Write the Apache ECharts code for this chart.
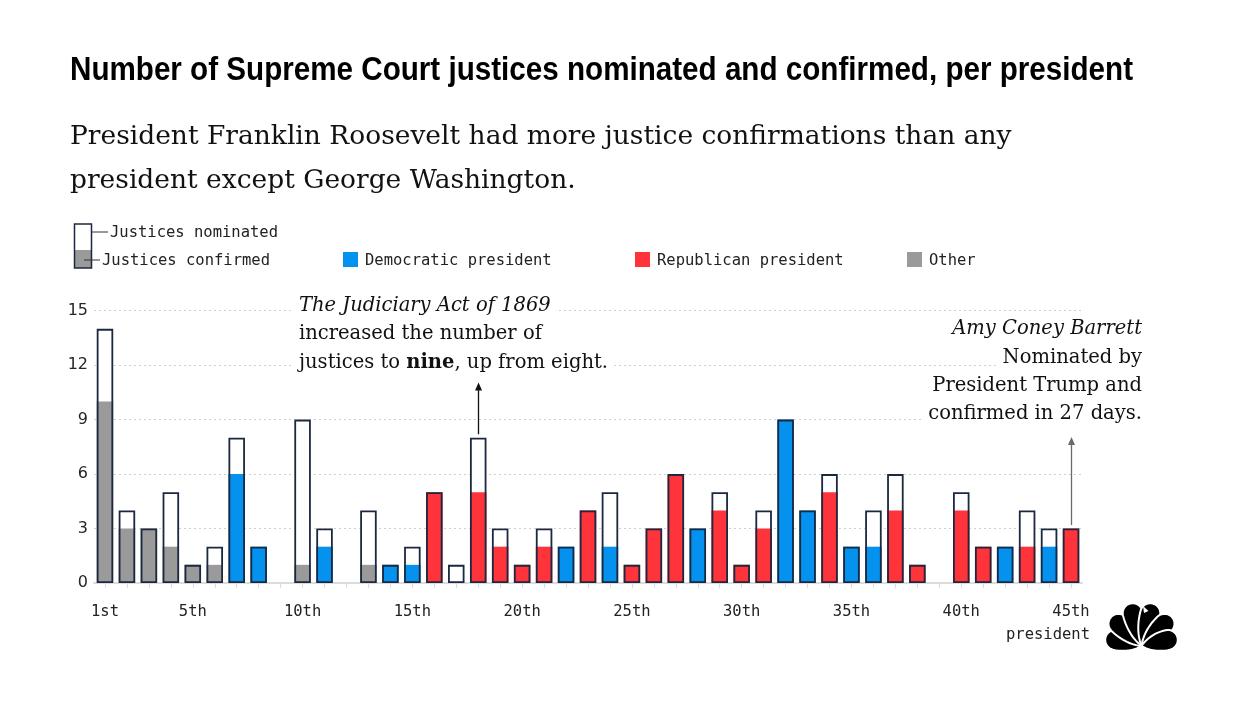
<!DOCTYPE html>
<html>
<head>
<meta charset="utf-8">
<script src="https://cdn.jsdelivr.net/npm/echarts/dist/echarts.min.js"></script>
<style>
  html, body { margin: 0; padding: 0; background: #fff; }
  #chart { width: 1250px; height: 703px; }
</style>
</head>
<body>
<div id="chart"></div>
<script>
// ---------------- DATA ----------------
const categories = ['1st','2nd','3rd','4th','5th','6th','7th','8th','9th','10th',
  '11th','12th','13th','14th','15th','16th','17th','18th','19th','20th',
  '21st','22nd','23rd','24th','25th','26th','27th','28th','29th','30th',
  '31st','32nd','33rd','34th','35th','36th','37th','38th','39th','40th',
  '41st','42nd','43rd','44th','45th'];
const nominated = [14,4,3,5,1,2,8,2,0,9, 3,0,4,1,2,5,1,8,3,1, 3,2,4,5,1,3,6,3,5,1, 4,9,4,6,2,4,6,1,0,5, 2,2,4,3,3];
const confirmed = [10,3,3,2,1,1,6,2,0,1, 2,0,1,1,1,5,0,5,2,1, 2,2,4,2,1,3,6,3,4,1, 3,9,4,5,2,2,4,1,0,4, 2,2,2,2,3];
const party = ['O','O','O','O','O','O','D','D','O','O', 'D','O','O','D','D','R','O','R','R','R',
  'R','D','R','D','R','R','R','D','R','R', 'R','D','D','R','D','D','R','R','D','R', 'R','D','R','D','R'];
const shownLabels = ['1st','5th','10th','15th','20th','25th','30th','35th','40th','45th'];
const yTicks = [0,3,6,9,12,15];

// ---------------- STYLE ----------------
const partyColor = { D: '#0592ef', R: '#ff333a', O: '#9a9a9a' };
const borderNavy = '#1b2840';
const MONO = '"DejaVu Sans Mono", monospace';
const SERIF = '"DejaVu Serif", serif';

const ctx = document.createElement('canvas').getContext('2d');
function textW(t, size, family, weight, style) {
  ctx.font = (style || 'normal') + ' ' + (weight || 'normal') + ' ' + size + 'px ' + family;
  return ctx.measureText(t).width;
}

const chart = echarts.init(document.getElementById('chart'), null, { renderer: 'canvas' });

const BW = 16.5;
const option = {
  animation: false,
  grid: { left: 94, right: 168, top: 310.7, bottom: 120, containLabel: false },
  xAxis: {
    type: 'category',
    data: categories,
    boundaryGap: true,
    axisLine: { lineStyle: { color: '#dcdcdc', width: 2 } },
    axisTick: { show: true, alignWithLabel: true, interval: 0, length: 5, lineStyle: { color: '#dcdcdc', width: 1 } },
    axisLabel: {
      interval: 0,
      formatter: v => (shownLabels.indexOf(v) >= 0 ? v : ''),
      margin: 21,
      fontFamily: MONO, fontSize: 15.5, color: '#222'
    },
    splitLine: { show: false }
  },
  yAxis: {
    type: 'value',
    min: yTicks[0], max: yTicks[yTicks.length - 1], interval: yTicks[1] - yTicks[0],
    axisLine: { show: false }, axisTick: { show: false },
    splitLine: { lineStyle: { color: '#cfcfcf', type: [2, 3], width: 1 } },
    axisLabel: { fontFamily: '"DejaVu Sans", sans-serif', fontSize: 16, color: '#262626', margin: 6 }
  },
  series: [
    {
      name: 'nominatedFill', type: 'bar', barWidth: BW, barGap: '-100%', z: 2, silent: true,
      data: nominated.map(v => (v > 0 ? v : null)),
      itemStyle: { color: '#ffffff' }
    },
    {
      name: 'confirmed', type: 'bar', barWidth: BW, barGap: '-100%', z: 3, silent: true,
      data: confirmed.map((v, i) => (v > 0 ? { value: v, itemStyle: { color: partyColor[party[i]] } } : null))
    },
    {
      name: 'nominatedOutline', type: 'bar', barWidth: BW, barGap: '-100%', z: 4, silent: true,
      data: nominated.map(v => (v > 0 ? v : null)),
      itemStyle: { color: 'rgba(0,0,0,0)', borderColor: borderNavy, borderWidth: 1.8 }
    }
  ]
};
chart.setOption(option);

// ---------------- TEXT / ANNOTATIONS ----------------
const titleText = 'Number of Supreme Court justices nominated and confirmed, per president';
const titleScale = 1063 / textW(titleText, 33, '"Liberation Sans"', 'bold');
const sub1 = 'President Franklin Roosevelt had more justice confirmations than any';
const sub2 = 'president except George Washington.';
const subSize = 26 * 942 / textW(sub1, 26, SERIF);
const annSize = 20 * 243 / textW('increased the number of', 20, SERIF);

const G = [];
function txt(x, y, text, opts) {
  const o = Object.assign({
    type: 'text', x: x, y: y, z: 100,
    style: Object.assign({ text: text, fill: '#111', verticalAlign: 'middle', align: 'left' }, opts && opts.style)
  }, opts && opts.el);
  G.push(o);
}

txt(70, 71, titleText, { el: { scaleX: titleScale }, style: { fontFamily: '"Liberation Sans", sans-serif', fontWeight: 'bold', fontSize: 33, fill: '#000' } });
txt(70, 137, sub1, { style: { fontFamily: SERIF, fontSize: subSize, fill: '#111' } });
txt(70, 181.5, sub2, { style: { fontFamily: SERIF, fontSize: subSize, fill: '#111' } });

// legend: stacked icon
G.push({ type: 'rect', z: 100, shape: { x: 74.5, y: 224, width: 17, height: 44 }, style: { fill: '#fff' } });
G.push({ type: 'rect', z: 100, shape: { x: 74.5, y: 250, width: 17, height: 18 }, style: { fill: partyColor.O } });
G.push({ type: 'rect', z: 101, shape: { x: 74.5, y: 224, width: 17, height: 44 }, style: { fill: 'none', stroke: borderNavy, lineWidth: 1.5 } });
G.push({ type: 'line', z: 101, shape: { x1: 91.5, y1: 232, x2: 108, y2: 232 }, style: { stroke: '#333', lineWidth: 1 } });
G.push({ type: 'line', z: 101, shape: { x1: 84, y1: 260, x2: 100, y2: 260 }, style: { stroke: '#333', lineWidth: 1 } });
txt(110, 233, 'Justices nominated', { style: { fontFamily: MONO, fontSize: 15.5, fill: '#222' } });
txt(102, 261, 'Justices confirmed', { style: { fontFamily: MONO, fontSize: 15.5, fill: '#222' } });

// legend: party squares
[[343, 'Democratic president', partyColor.D], [635, 'Republican president', partyColor.R], [907, 'Other', partyColor.O]].forEach(([x, label, c]) => {
  G.push({ type: 'rect', z: 100, shape: { x: x, y: 252, width: 15, height: 15 }, style: { fill: c } });
  txt(x + 22, 260.5, label, { style: { fontFamily: MONO, fontSize: 15.5, fill: '#222' } });
});

// left annotation
const annStyle = { fontFamily: SERIF, fontSize: annSize, fill: '#111', backgroundColor: '#fff', padding: [1, 5] };
txt(294, 311.7 - 0.3 * annSize, 'The Judiciary Act of 1869', { style: Object.assign({}, annStyle, { fontStyle: 'italic' }) });
txt(294, 340 - 0.3 * annSize, 'increased the number of', { style: annStyle });
txt(294, 368.4 - 0.3 * annSize, '{a|justices to }{b|nine}{a|, up from eight.}', {
  style: Object.assign({}, annStyle, {
    rich: {
      a: { fontFamily: SERIF, fontSize: annSize, fill: '#111' },
      b: { fontFamily: SERIF, fontSize: annSize, fill: '#111', fontWeight: 'bold' }
    }
  })
});

// right annotation
const rStyle = Object.assign({}, annStyle, { align: 'right' });
txt(1147, 335 - 0.3 * annSize, 'Amy Coney Barrett', { style: Object.assign({}, rStyle, { fontStyle: 'italic' }) });
txt(1147, 363.3 - 0.3 * annSize, 'Nominated by', { style: rStyle });
txt(1147, 391.7 - 0.3 * annSize, 'President Trump and', { style: rStyle });
txt(1147, 420 - 0.3 * annSize, 'confirmed in 27 days.', { style: rStyle });

// arrows tied to data
function arrow(idx, tipY, color) {
  const p = chart.convertToPixel({ xAxisIndex: 0, yAxisIndex: 0 }, [idx, nominated[idx]]);
  const x = Math.round(p[0]) + 0.5;
  const bottom = p[1] - 3.5;
  G.push({ type: 'line', z: 100, shape: { x1: x, y1: bottom, x2: x, y2: tipY + 6 }, style: { stroke: color, lineWidth: 1.3 } });
  G.push({ type: 'polygon', z: 100, shape: { points: [[x, tipY], [x - 3.5, tipY + 8], [x + 3.5, tipY + 8]] }, style: { fill: color } });
}
arrow(17, 382.5, '#111');
arrow(44, 437, '#6a6a6a');

// "president" axis suffix
txt(1090, 635, 'president', { style: { fontFamily: MONO, fontSize: 15.5, fill: '#222', align: 'right' } });

// NBC peacock logo (feathers as sampled teardrop polygons)
const cx = 1141.5, cy = 646;
const feathers = [[77, 37], [46, 42], [15, 44], [-15, 44], [-46, 42], [-77, 37]];
function cubic(p0, p1, p2, p3, t) {
  const u = 1 - t;
  return [u*u*u*p0[0] + 3*u*u*t*p1[0] + 3*u*t*t*p2[0] + t*t*t*p3[0],
          u*u*u*p0[1] + 3*u*u*t*p1[1] + 3*u*t*t*p2[1] + t*t*t*p3[1]];
}
feathers.forEach(([a, D]) => {
  const w = 10, h = D - w;
  const pts = [];
  const N = 16;
  for (let i = 0; i <= N; i++) pts.push(cubic([0, 0], [-w * 0.55, -h * 0.22], [-w, -h * 0.55], [-w, -h], i / N));
  for (let i = 1; i < N; i++) { const th = Math.PI - Math.PI * i / N; pts.push([w * Math.cos(th), -h - w * Math.sin(th)]); }
  for (let i = 0; i <= N; i++) pts.push(cubic([w, -h], [w, -h * 0.55], [w * 0.55, -h * 0.22], [0, 0], i / N));
  const r = -a * Math.PI / 180; // positive a leans left
  const world = pts.map(([px, py]) => [cx + px * Math.cos(r) - py * Math.sin(r), cy + px * Math.sin(r) + py * Math.cos(r)]);
  G.push({ type: 'polygon', z: 100, shape: { points: world }, style: { fill: '#000', stroke: '#fff', lineWidth: 2 } });
});
G.push({ type: 'polygon', z: 101, shape: { points: [[1143, 606], [1148.5, 611], [1144, 613]] }, style: { fill: '#fff' } });

chart.setOption({ graphic: { elements: G } });
</script>
</body>
</html>
